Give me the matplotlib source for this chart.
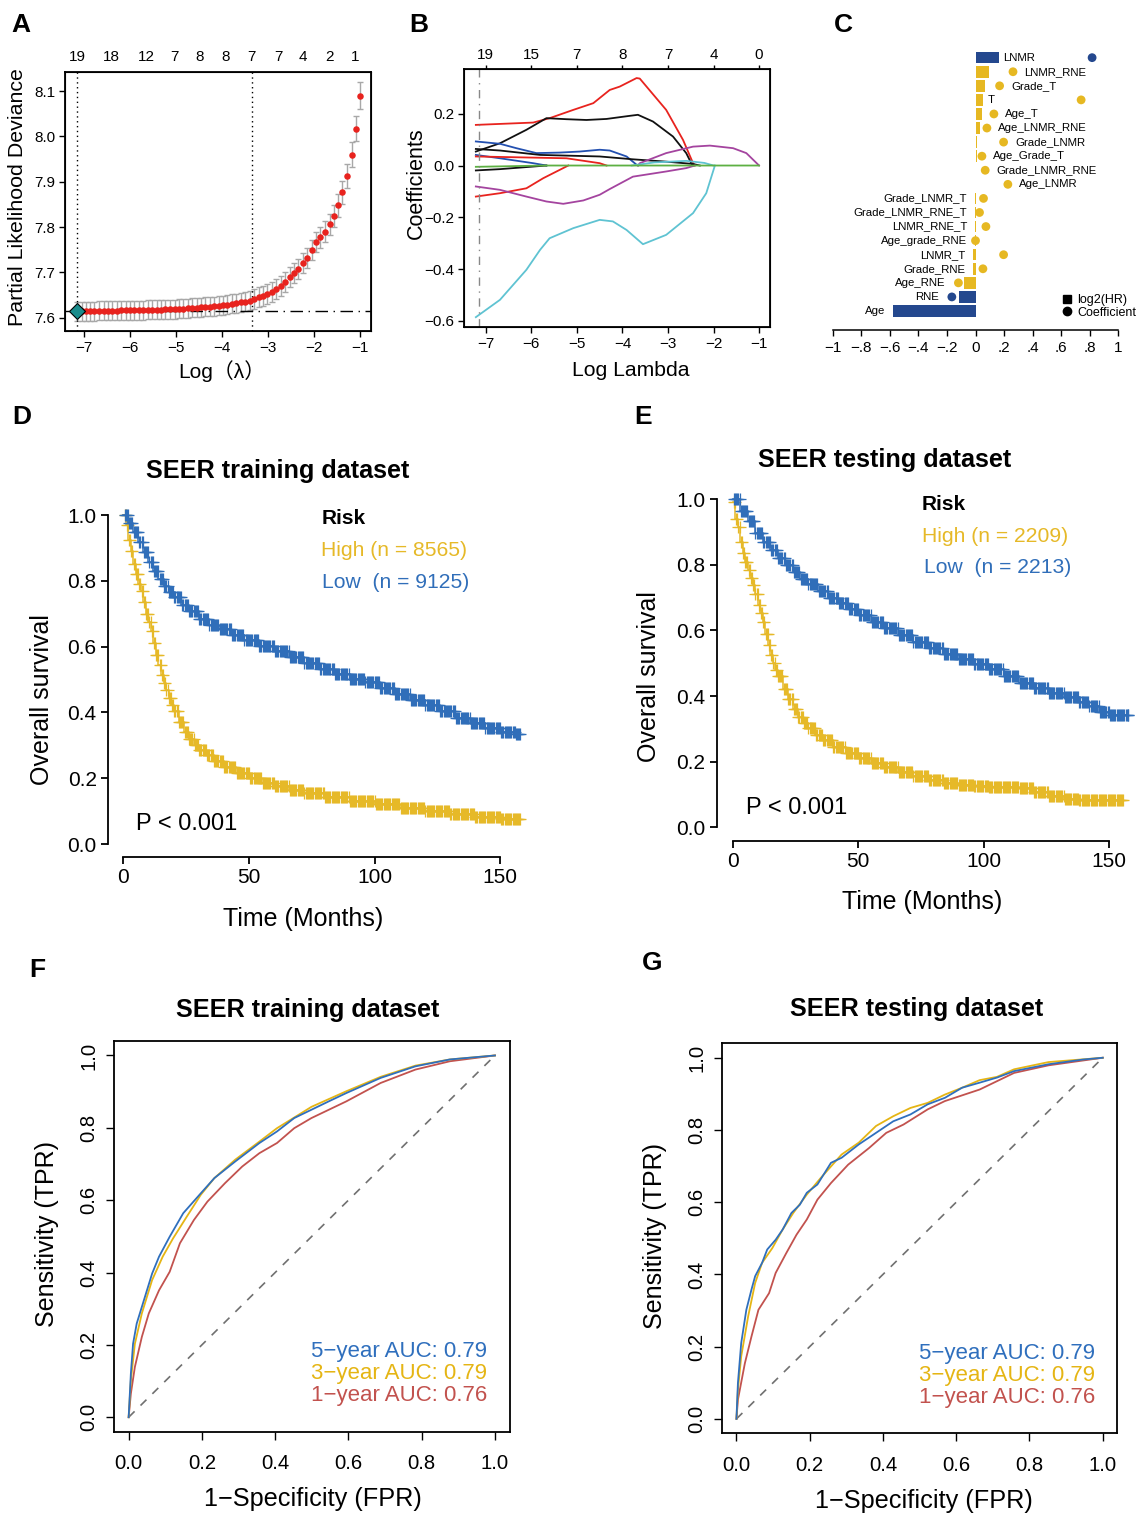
import numpy as np
import matplotlib.pyplot as plt
from matplotlib.lines import Line2D

plt.rcParams['font.family'] = ['Liberation Sans', 'DejaVu Sans', 'Noto Sans CJK SC']
plt.rcParams['axes.unicode_minus'] = True

# ---------------- data ----------------
# A: cross-validated partial likelihood deviance
log_lambda = [-7.15, -7.05, -6.96, -6.86, -6.77, -6.67, -6.57, -6.48, -6.38, -6.28,
              -6.19, -6.09, -6.00, -5.90, -5.80, -5.71, -5.61, -5.51, -5.42, -5.32,
              -5.23, -5.13, -5.03, -4.94, -4.84, -4.74, -4.65, -4.55, -4.46, -4.36,
              -4.26, -4.17, -4.07, -3.97, -3.88, -3.78, -3.69, -3.59, -3.49, -3.40,
              -3.30, -3.20, -3.11, -3.01, -2.92, -2.82, -2.72, -2.63, -2.53, -2.43,
              -2.34, -2.24, -2.15, -2.05, -1.95, -1.86, -1.76, -1.66, -1.57, -1.47,
              -1.38, -1.28, -1.18, -1.09, -0.99]
deviance = [7.615, 7.615, 7.615, 7.615, 7.615, 7.616, 7.616, 7.616, 7.616, 7.616,
            7.617, 7.617, 7.617, 7.617, 7.617, 7.617, 7.618, 7.618, 7.618, 7.618,
            7.619, 7.619, 7.619, 7.620, 7.620, 7.621, 7.622, 7.622, 7.623, 7.624,
            7.625, 7.626, 7.627, 7.628, 7.629, 7.631, 7.632, 7.634, 7.636, 7.638,
            7.641, 7.645, 7.648, 7.653, 7.658, 7.664, 7.671, 7.680, 7.689, 7.699,
            7.708, 7.720, 7.732, 7.749, 7.767, 7.778, 7.790, 7.806, 7.825, 7.848,
            7.877, 7.913, 7.960, 8.017, 8.090]
dev_se = [0.021, 0.021, 0.021, 0.021, 0.021, 0.021, 0.021, 0.021, 0.021, 0.021,
          0.021, 0.021, 0.021, 0.021, 0.021, 0.021, 0.021, 0.021, 0.021, 0.021,
          0.021, 0.021, 0.021, 0.021, 0.021, 0.021, 0.021, 0.021, 0.021, 0.021,
          0.021, 0.021, 0.021, 0.021, 0.021, 0.021, 0.021, 0.021, 0.021, 0.021,
          0.022, 0.022, 0.022, 0.022, 0.022, 0.022, 0.022, 0.022, 0.022, 0.022,
          0.022, 0.022, 0.022, 0.022, 0.022, 0.023, 0.023, 0.024, 0.024, 0.025,
          0.025, 0.026, 0.027, 0.028, 0.030]
lambda_1se = -3.35
a_top_pos = [-7.15, -6.41, -5.65, -5.04, -4.48, -3.91, -3.35, -2.78, -2.24, -1.67, -1.11]
a_top_lab = ['19', '18', '12', '7', '8', '8', '7', '7', '4', '2', '1']

# B: coefficient paths (log lambda, coefficient)
b_paths = [
    ('#E8231E', [-7.22, -5.96, -5.6, -5.08, -4.64, -4.28, -4.06, -3.69, -3.62, -3.04, -2.67, -2.45, -2.41],
                [0.157, 0.166, 0.183, 0.215, 0.241, 0.292, 0.305, 0.338, 0.336, 0.215, 0.099, 0.009, 0.0]),
    ('#111111', [-7.22, -6.69, -6.11, -5.67, -5.23, -4.79, -4.35, -3.84, -3.66, -3.33, -2.89, -2.6, -2.49, -2.45],
                [0.054, 0.086, 0.138, 0.183, 0.179, 0.176, 0.18, 0.192, 0.196, 0.17, 0.112, 0.048, 0.009, 0.0]),
    ('#2350B0', [-7.22, -6.69, -6.33, -5.89, -5.38, -4.94, -4.5, -4.28, -3.91, -3.69, -3.66],
                [0.093, 0.084, 0.067, 0.048, 0.05, 0.054, 0.061, 0.058, 0.035, 0.003, 0.0]),
    ('#111111', [-7.22, -6.69, -5.81, -4.5, -3.77, -3.04, -2.45, -2.3],
                [0.064, 0.058, 0.041, 0.035, 0.024, 0.015, 0.006, 0.0]),
    ('#2350B0', [-7.22, -6.69, -5.96, -5.67], [0.041, 0.028, 0.009, 0.0]),
    ('#E8231E', [-7.22, -5.23, -4.5, -4.35], [0.035, 0.028, 0.009, 0.0]),
    ('#E8231E', [-7.22, -6.69, -6.11, -5.74, -5.38, -5.19], [-0.12, -0.107, -0.088, -0.049, -0.017, 0.0]),
    ('#A4449F', [-7.22, -6.69, -6.11, -5.67, -5.3, -4.86, -4.5, -4.28, -3.77, -3.04, -2.6, -2.41],
                [-0.081, -0.094, -0.12, -0.139, -0.148, -0.135, -0.113, -0.091, -0.043, -0.023, -0.01, 0.0]),
    ('#A4449F', [-3.66, -3.62, -3.04, -2.45, -2.08, -1.57, -1.28, -1.0],
                [0.0, 0.009, 0.048, 0.073, 0.077, 0.067, 0.048, 0.0]),
    ('#5FC3D2', [-7.22, -6.69, -6.11, -5.81, -5.6, -5.08, -4.5, -4.21, -3.91, -3.55, -3.04, -2.45, -2.16, -1.97],
                [-0.586, -0.519, -0.403, -0.326, -0.281, -0.242, -0.21, -0.216, -0.249, -0.304, -0.268, -0.184, -0.107, 0.0]),
    ('#5FC3D2', [-3.8, -3.3, -2.6, -2.2, -2.0], [0.0, 0.012, 0.018, 0.01, 0.0]),
    ('#111111', [-7.22, -6.69, -5.67], [-0.019, -0.014, 0.0]),
    ('#5DB043', [-7.22, -5.67, -1.0], [-0.005, 0.0, 0.0]),
]
b_top_pos = [-7, -6, -5, -4, -3, -2, -1]
b_top_lab = ['19', '15', '7', '8', '7', '4', '0']

# C: log2(HR) bars and coefficients
c_features = ['LNMR', 'LNMR_RNE', 'Grade_T', 'T', 'Age_T', 'Age_LNMR_RNE', 'Grade_LNMR',
              'Age_Grade_T', 'Grade_LNMR_RNE', 'Age_LNMR', 'Grade_LNMR_T', 'Grade_LNMR_RNE_T',
              'LNMR_RNE_T', 'Age_grade_RNE', 'LNMR_T', 'Grade_RNE', 'Age_RNE', 'RNE', 'Age']
c_log2hr = [0.162, 0.096, 0.068, 0.056, 0.045, 0.033, 0.009, 0.007, 0.005, 0.002,
            -0.003, -0.003, -0.004, -0.005, -0.019, -0.019, -0.08, -0.117, -0.581]
c_coef = [0.818, 0.263, 0.169, 0.741, 0.129, 0.08, 0.197, 0.045, 0.068, 0.227,
          0.056, 0.028, 0.073, 0.0, 0.197, 0.052, -0.12, -0.166, np.nan]
c_main = ['LNMR', 'RNE', 'Age']

# D/E: Kaplan-Meier curves (months, survival)
d_high_t = [0, 1, 2, 3, 4, 5, 6, 7, 8, 9, 10, 11, 12, 13, 14, 15, 16, 17, 18, 19, 20, 22, 24, 26, 28,
            30, 33, 36, 40, 45, 50, 55, 60, 66, 72, 80, 90, 100, 110, 120, 130, 140, 150]
d_high_s = [1.0, 0.97, 0.925, 0.89, 0.85, 0.82, 0.79, 0.77, 0.737, 0.70, 0.675, 0.648, 0.61, 0.575,
            0.545, 0.515, 0.49, 0.467, 0.445, 0.422, 0.404, 0.37, 0.34, 0.318, 0.30, 0.286, 0.27,
            0.253, 0.234, 0.215, 0.20, 0.186, 0.175, 0.163, 0.154, 0.144, 0.132, 0.121, 0.11, 0.10,
            0.09, 0.082, 0.076]
d_high_end = 158
d_low_t = [0, 2, 4, 6, 8, 10, 12, 14, 16, 18, 20, 23, 26, 30, 34, 38, 43, 48, 54, 60, 66, 72, 78,
           84, 90, 96, 102, 108, 114, 120, 126, 132, 138, 144, 150, 156]
d_low_s = [1.0, 0.975, 0.947, 0.918, 0.888, 0.858, 0.83, 0.806, 0.785, 0.766, 0.75, 0.727, 0.708,
           0.685, 0.667, 0.652, 0.636, 0.621, 0.603, 0.586, 0.569, 0.551, 0.533, 0.516, 0.503,
           0.491, 0.475, 0.455, 0.437, 0.421, 0.403, 0.384, 0.368, 0.354, 0.34, 0.333]
d_low_end = 158

e_high_t = [0, 1, 2, 3, 4, 5, 6, 7, 8, 9, 10, 11, 12, 13, 14, 15, 16, 17, 18, 20, 22, 24, 26, 28, 30,
            33, 36, 40, 45, 50, 55, 60, 66, 72, 78, 84, 90, 96, 102, 108, 114, 120, 126, 132, 138]
e_high_s = [0.99, 0.94, 0.915, 0.87, 0.835, 0.81, 0.785, 0.76, 0.737, 0.712, 0.678, 0.652, 0.625,
            0.59, 0.555, 0.525, 0.50, 0.478, 0.46, 0.42, 0.39, 0.36, 0.337, 0.318, 0.302, 0.28,
            0.265, 0.245, 0.225, 0.21, 0.195, 0.183, 0.168, 0.156, 0.145, 0.136, 0.13, 0.126,
            0.124, 0.124, 0.12, 0.108, 0.096, 0.086, 0.083]
e_high_end = 155.7
e_low_t = [0, 3, 6, 9, 12, 15, 18, 21, 24, 27, 30, 34, 38, 42, 46, 50, 55, 60, 66, 72, 78, 84, 90,
           96, 102, 108, 114, 120, 126, 132, 138, 142, 146, 150]
e_low_s = [1.0, 0.965, 0.932, 0.897, 0.869, 0.845, 0.822, 0.80, 0.777, 0.758, 0.742, 0.72, 0.698,
           0.683, 0.665, 0.648, 0.627, 0.607, 0.585, 0.566, 0.547, 0.528, 0.513, 0.497, 0.481,
           0.46, 0.44, 0.425, 0.41, 0.397, 0.383, 0.37, 0.35, 0.342]
e_low_end = 157.7

# F/G: time-dependent ROC curves (FPR, TPR)
f_roc = {
    '5': ([0, 0.006, 0.012, 0.022, 0.036, 0.05, 0.064, 0.083, 0.112, 0.149, 0.197, 0.234, 0.291, 0.357,
           0.405, 0.452, 0.499, 0.546, 0.594, 0.688, 0.783, 0.877, 1.0],
          [0, 0.12, 0.203, 0.259, 0.305, 0.351, 0.397, 0.444, 0.499, 0.564, 0.619, 0.661, 0.707, 0.758,
           0.79, 0.827, 0.85, 0.873, 0.896, 0.938, 0.97, 0.989, 1.0]),
    '3': ([0, 0.006, 0.017, 0.036, 0.064, 0.093, 0.121, 0.159, 0.197, 0.234, 0.291, 0.357, 0.405, 0.499,
           0.594, 0.688, 0.783, 0.877, 1.0],
          [0, 0.102, 0.203, 0.287, 0.379, 0.444, 0.494, 0.555, 0.615, 0.661, 0.712, 0.762, 0.799, 0.858,
           0.901, 0.941, 0.972, 0.989, 1.0]),
    '1': ([0, 0.006, 0.017, 0.036, 0.055, 0.083, 0.112, 0.14, 0.178, 0.215, 0.263, 0.31, 0.357, 0.405,
           0.452, 0.499, 0.594, 0.688, 0.783, 0.877, 1.0],
          [0, 0.065, 0.139, 0.222, 0.287, 0.351, 0.402, 0.481, 0.545, 0.596, 0.647, 0.693, 0.73, 0.758,
           0.799, 0.827, 0.873, 0.924, 0.961, 0.984, 1.0]),
}
g_roc = {
    '5': ([0, 0.004, 0.013, 0.027, 0.041, 0.051, 0.07, 0.084, 0.107, 0.126, 0.15, 0.173, 0.192, 0.221,
           0.258, 0.287, 0.334, 0.381, 0.428, 0.475, 0.522, 0.569, 0.616, 0.664, 0.711, 0.758, 0.852,
           0.946, 1.0],
          [0, 0.099, 0.21, 0.302, 0.358, 0.395, 0.432, 0.469, 0.496, 0.524, 0.57, 0.593, 0.626, 0.649,
           0.709, 0.723, 0.76, 0.792, 0.824, 0.843, 0.871, 0.889, 0.917, 0.931, 0.945, 0.963, 0.982,
           0.995, 1.0]),
    '3': ([0, 0.004, 0.013, 0.032, 0.051, 0.07, 0.098, 0.126, 0.155, 0.192, 0.23, 0.287, 0.334, 0.381,
           0.428, 0.475, 0.522, 0.569, 0.616, 0.664, 0.711, 0.758, 0.852, 1.0],
          [0, 0.08, 0.173, 0.284, 0.376, 0.432, 0.473, 0.524, 0.57, 0.621, 0.667, 0.732, 0.765, 0.811,
           0.838, 0.861, 0.875, 0.898, 0.917, 0.938, 0.947, 0.968, 0.988, 1.0]),
    '1': ([0, 0.004, 0.023, 0.041, 0.06, 0.089, 0.107, 0.136, 0.164, 0.192, 0.221, 0.258, 0.305, 0.362,
           0.409, 0.456, 0.522, 0.569, 0.664, 0.711, 0.758, 0.852, 1.0],
          [0, 0.053, 0.154, 0.228, 0.302, 0.348, 0.404, 0.459, 0.51, 0.552, 0.607, 0.653, 0.704, 0.75,
           0.792, 0.815, 0.857, 0.88, 0.912, 0.935, 0.958, 0.979, 1.0]),
}
auc_labels = {'5': '5\u2212year AUC: 0.79', '3': '3\u2212year AUC: 0.79', '1': '1\u2212year AUC: 0.76'}

# ---------------- figure helpers ----------------
W, H = 1138, 1518
fig = plt.figure(figsize=(W / 100, H / 100), dpi=100)


def add_ax(l, t, r, b):
    return fig.add_axes([l / W, 1 - b / H, (r - l) / W, (b - t) / H])


def ftext(x, y, s, **kw):
    kw.setdefault('ha', 'center')
    kw.setdefault('va', 'center')
    fig.text(x / W, 1 - y / H, s, **kw)


KM_BLUE = '#306EB9'
KM_YEL = '#E6B928'
C_BLUE = '#24488E'
C_YEL = '#E6B822'
ROC_COL = {'5': '#2F6FBD', '3': '#E5B514', '1': '#C2524E'}

# panel letters
for lab, x, y in [('A', 21, 25), ('B', 419, 25), ('C', 843, 25), ('D', 22, 417),
                  ('E', 643, 417), ('F', 37, 970), ('G', 652, 963)]:
    ftext(x, y, lab, fontsize=19, fontweight='bold')

# ---------------- A ----------------
axA = add_ax(65, 72, 371, 331)
axA.errorbar(log_lambda, deviance, yerr=dev_se, fmt='none', ecolor='#A8A8A8',
             elinewidth=1.0, capsize=2.4, capthick=1.0, zorder=1)
axA.scatter(log_lambda, deviance, s=22, color='#E8231E', zorder=3, linewidths=0)
axA.axhline(min(deviance), color='black', lw=1, linestyle=(0, (9, 4, 1, 4)), zorder=2)
lam_min = log_lambda[int(np.argmin(deviance))]
for xv in [lam_min, lambda_1se]:
    axA.axvline(xv, color='black', lw=1, linestyle=(0, (1, 2.5)), zorder=2)
axA.plot([lam_min], [min(deviance)], marker='D', ms=8, mfc='#1A8C8C', mec='black', mew=0.8, zorder=4)
axA.set_xlim(-7.41, -0.76)
axA.set_ylim(7.571, 8.142)
axA.set_xticks([-7, -6, -5, -4, -3, -2, -1])
axA.set_yticks([7.6, 7.7, 7.8, 7.9, 8.0, 8.1])
axA.tick_params(labelsize=11, length=4, width=1, pad=3)
for s in axA.spines.values():
    s.set_linewidth(1.3)
axA2 = axA.twiny()
axA2.set_xlim(axA.get_xlim())
axA2.set_xticks(a_top_pos)
axA2.set_xticklabels(a_top_lab)
axA2.tick_params(length=0, labelsize=11, pad=6)
ftext(18, 197, 'Partial Likelihood Deviance', fontsize=15.4, rotation=90)
ftext(222, 371, 'Log\uff08\u03bb\uff09', fontsize=15)

# ---------------- B ----------------
axB = add_ax(464, 69, 770, 327)
for col, xs, ys in b_paths:
    axB.plot(xs, ys, color=col, lw=1.3)
axB.axvline(lam_min, color='#888888', lw=1, linestyle=(0, (6, 4, 1, 4)))
axB.set_xlim(-7.48, -0.76)
axB.set_ylim(-0.624, 0.373)
axB.set_xticks([-7, -6, -5, -4, -3, -2, -1])
axB.set_yticks([-0.6, -0.4, -0.2, 0.0, 0.2])
axB.tick_params(labelsize=11, length=4, width=1, pad=3)
for s in axB.spines.values():
    s.set_linewidth(1.3)
axB2 = axB.twiny()
axB2.set_xlim(axB.get_xlim())
axB2.set_xticks(b_top_pos)
axB2.set_xticklabels(b_top_lab)
axB2.tick_params(length=3, width=1, labelsize=11, pad=2)
ftext(416, 183, 'Coefficients', fontsize=15.5, rotation=90)
ftext(631, 371, 'Log Lambda', fontsize=15.2)

# ---------------- C ----------------
axC = add_ax(825, 45, 1136, 330)
ypos = np.arange(len(c_features))[::-1]
cols = [C_BLUE if f in c_main else C_YEL for f in c_features]
axC.barh(ypos, c_log2hr, height=0.82, color=cols)
axC.scatter(c_coef, ypos, s=40, color=cols, zorder=3, linewidths=0)
for f, y, b, c in zip(c_features, ypos, c_log2hr, c_coef):
    if b >= 0:
        x = c + 0.08 if c < 0.35 else b + 0.03
        axC.text(x, y, f, fontsize=8.2, ha='left', va='center')
    else:
        x = b - 0.055
        if c < 0:
            x = min(x, c - 0.09)
        axC.text(x, y, f, fontsize=8.2, ha='right', va='center')
axC.set_xlim(-1.056, 1.126)
axC.set_ylim(-1.35, 18.9)
axC.set_xticks([-1, -0.8, -0.6, -0.4, -0.2, 0, 0.2, 0.4, 0.6, 0.8, 1])
axC.set_xticklabels(['\u22121', '\u2212.8', '\u2212.6', '\u2212.4', '\u2212.2', '0',
                     '.2', '.4', '.6', '.8', '1'])
axC.set_yticks([])
for k in ['left', 'right', 'top']:
    axC.spines[k].set_visible(False)
axC.spines['bottom'].set_bounds(-1, 1)
axC.spines['bottom'].set_linewidth(1.1)
axC.tick_params(axis='x', labelsize=11, length=4, width=1, pad=4)
handles = [Line2D([], [], marker='s', color='black', ls='none', ms=6),
           Line2D([], [], marker='o', color='black', ls='none', ms=6)]
axC.legend(handles, ['log2(HR)', 'Coefficient'], loc='lower right', bbox_to_anchor=(1.0, 0.04),
           frameon=False, fontsize=9, handlelength=0.8, handletextpad=0.4,
           labelspacing=0.05, borderpad=0, borderaxespad=0)


# ---------------- D / E ----------------
def km(ax, t, s, end, color):
    t = list(t) + [end]
    s = list(s) + [s[-1]]
    ax.step(t, s, where='post', color=color, lw=1.1)
    cens = np.arange(0.5, end, 0.45)
    idx = np.searchsorted(t, cens, side='right') - 1
    ax.plot(cens, np.array(s)[idx], ls='none', marker='+', ms=9, mew=0.9, color=color)
    ax.plot([end], [s[-1]], ls='none', marker='+', ms=9, mew=0.9, color=color)


def km_axes(ax):
    for k in ['right', 'top']:
        ax.spines[k].set_visible(False)
    ax.spines['left'].set_bounds(0, 1)
    ax.spines['bottom'].set_bounds(0, 150)
    for k in ['left', 'bottom']:
        ax.spines[k].set_linewidth(1.3)
    ax.set_xticks([0, 50, 100, 150])
    ax.set_yticks([0, 0.2, 0.4, 0.6, 0.8, 1.0])
    ax.set_yticklabels(['0.0', '0.2', '0.4', '0.6', '0.8', '1.0'])
    ax.tick_params(labelsize=15, length=5, width=1.3, pad=3)


axD = add_ax(107.8, 505, 530, 857)
axD.set_xlim(-6.17, 161.8)
km(axD, d_high_t, d_high_s, d_high_end, KM_YEL)
km(axD, d_low_t, d_low_s, d_low_end, KM_BLUE)
km_axes(axD)
axD.set_ylim(-0.0395, 1.0304)
ftext(278, 471, 'SEER training dataset', fontsize=18.2, fontweight='bold')
ftext(322, 518, 'Risk', fontsize=15, fontweight='bold', ha='left')
ftext(321, 550, 'High (n = 8565)', fontsize=15.2, color=KM_YEL, ha='left')
ftext(322, 582, 'Low  (n = 9125)', fontsize=15.2, color=KM_BLUE, ha='left')
ftext(136, 824, 'P < 0.001', fontsize=17, ha='left')
ftext(42, 700, 'Overall survival', fontsize=18, rotation=90)
ftext(303, 919, 'Time (Months)', fontsize=18)

axE = add_ax(716.7, 490, 1135, 841)
axE.set_xlim(-6.38, 160.4)
km(axE, e_high_t, e_high_s, e_high_end, KM_YEL)
km(axE, e_low_t, e_low_s, e_low_end, KM_BLUE)
km_axes(axE)
axE.set_ylim(-0.0418, 1.028)
ftext(885, 460, 'SEER testing dataset', fontsize=18.2, fontweight='bold')
ftext(922, 505, 'Risk', fontsize=15, fontweight='bold', ha='left')
ftext(922, 537, 'High (n = 2209)', fontsize=15.2, color=KM_YEL, ha='left')
ftext(924, 567, 'Low  (n = 2213)', fontsize=15.2, color=KM_BLUE, ha='left')
ftext(746, 808, 'P < 0.001', fontsize=17, ha='left')
ftext(649, 677, 'Overall survival', fontsize=18, rotation=90)
ftext(922, 902, 'Time (Months)', fontsize=18)


# ---------------- F / G ----------------
def roc_panel(ax, roc):
    ax.plot([0, 1], [0, 1], color='#707070', lw=1.2, linestyle=(0, (5, 5)))
    for key in ['1', '3', '5']:
        fpr, tpr = roc[key]
        ax.plot(fpr, tpr, color=ROC_COL[key], lw=1.3)
    ax.set_xlim(-0.04, 1.04)
    ax.set_ylim(-0.04, 1.04)
    ticks = [0, 0.2, 0.4, 0.6, 0.8, 1.0]
    labs = ['0.0', '0.2', '0.4', '0.6', '0.8', '1.0']
    ax.set_xticks(ticks)
    ax.set_xticklabels(labs)
    ax.set_yticks(ticks)
    ax.set_yticklabels(labs, rotation=90, va='center')
    ax.tick_params(labelsize=14.6, length=6, width=1)
    ax.tick_params(axis='x', pad=10)
    ax.tick_params(axis='y', pad=5)
    for s in ax.spines.values():
        s.set_linewidth(1.3)


axF = add_ax(114, 1041, 509.6, 1431.7)
roc_panel(axF, f_roc)
ftext(308, 1010, 'SEER training dataset', fontsize=18.2, fontweight='bold')
ftext(47, 1234, 'Sensitivity (TPR)', fontsize=18, rotation=90)
ftext(313, 1499, '1\u2212Specificity (FPR)', fontsize=18.2)
for key, y in [('5', 1351), ('3', 1373), ('1', 1395)]:
    ftext(487, y, auc_labels[key], fontsize=16, color=ROC_COL[key], ha='right')

axG = add_ax(721.8, 1043.3, 1117.4, 1433.3)
roc_panel(axG, g_roc)
ftext(917, 1009, 'SEER testing dataset', fontsize=18.2, fontweight='bold')
ftext(655, 1236, 'Sensitivity (TPR)', fontsize=18, rotation=90)
ftext(924, 1501, '1\u2212Specificity (FPR)', fontsize=18.2)
for key, y in [('5', 1354), ('3', 1375), ('1', 1397)]:
    ftext(1095, y, auc_labels[key], fontsize=16, color=ROC_COL[key], ha='right')

fig.savefig('out.png', dpi=100)
